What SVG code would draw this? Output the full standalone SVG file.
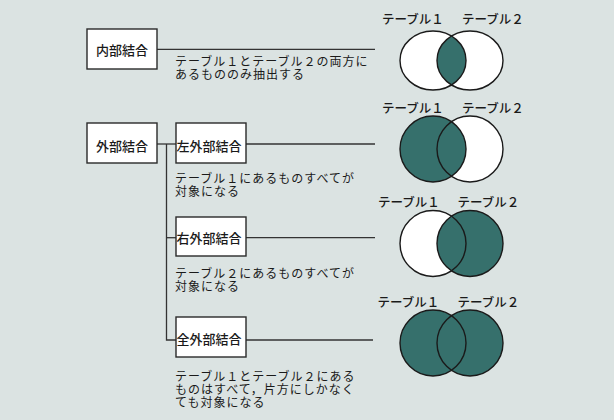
<svg xmlns="http://www.w3.org/2000/svg" width="614" height="420" viewBox="0 0 614 420">
<style>
text{font-family:"Noto Sans CJK JP","Noto Sans CJK SC",sans-serif;fill:#1a1a1a}
.box rect{fill:#fff;stroke:#2a2a2a;stroke-width:1.4}
.box text{font-size:13px;font-weight:500;text-anchor:middle}
.desc{font-size:12px;letter-spacing:1px}
.lbl{font-size:12.5px;font-weight:500}
.conn{stroke:#333;stroke-width:1.3;fill:none}
.c{stroke:#1a1a1a;stroke-width:1.4;fill:none}
.w{fill:#fff}
.t{fill:#36706c}
</style>
<defs>
<clipPath id="clipL"><ellipse cx="433" cy="60.5" rx="33" ry="29.5"/></clipPath>
</defs>
<rect width="614" height="420" fill="#dbe3e2"/>
<g id="connectors" class="conn">
<line x1="157" y1="49.3" x2="375" y2="49.3"/>
<line x1="157" y1="144" x2="176" y2="144"/>
<line x1="246" y1="144" x2="375" y2="144"/>
<polyline points="166.5,144 166.5,340 176,340"/>
<line x1="166.5" y1="237.7" x2="176" y2="237.7"/>
<line x1="246" y1="237.7" x2="375" y2="237.7"/>
<line x1="246" y1="340" x2="373" y2="340"/>
</g>
<g id="inner" class="box"><rect x="87" y="29" width="70" height="40"/><text x="122" y="54.5">内部結合</text></g>
<g id="outer" class="box"><rect x="87" y="123" width="70" height="40"/><text x="122" y="150.5">外部結合</text></g>
<g id="left" class="box"><rect x="176" y="123" width="70" height="40"/><text x="209" y="150.5">左外部結合</text></g>
<g id="right" class="box"><rect x="176" y="217" width="70" height="39"/><text x="209" y="243">右外部結合</text></g>
<g id="full" class="box"><rect x="176" y="317" width="70" height="40"/><text x="209" y="344">全外部結合</text></g>
<g id="desc1"><text class="desc" x="175" y="65.5">テーブル１とテーブル２の両方に<tspan x="175" dy="13">あるもののみ抽出する</tspan></text></g>
<g id="desc2"><text class="desc" x="175" y="182.5">テーブル１にあるものすべてが<tspan x="175" dy="13">対象になる</tspan></text></g>
<g id="desc3"><text class="desc" x="175" y="277.5">テーブル２にあるものすべてが<tspan x="175" dy="13">対象になる</tspan></text></g>
<g id="desc4"><text class="desc" x="175" y="381">テーブル１とテーブル２にある<tspan x="175" dy="13">ものはすべて，片方にしかなく</tspan><tspan x="175" dy="13">ても対象になる</tspan></text></g>
<g id="venn1">
<text class="lbl" x="382" y="24">テーブル１</text><text class="lbl" x="462" y="24">テーブル２</text>
<ellipse class="w" cx="433" cy="60.5" rx="33" ry="29.5"/>
<ellipse class="w" cx="470" cy="60.5" rx="33" ry="29.5"/>
<ellipse class="t" cx="470" cy="60.5" rx="33" ry="29.5" clip-path="url(#clipL)"/>
<ellipse class="c" cx="433" cy="60.5" rx="33" ry="29.5"/>
<ellipse class="c" cx="470" cy="60.5" rx="33" ry="29.5"/>
</g>
<g id="venn2">
<text class="lbl" x="382" y="113">テーブル１</text><text class="lbl" x="462" y="113">テーブル２</text>
<circle class="w" cx="470" cy="149" r="33"/>
<circle class="t" cx="433" cy="149" r="33"/>
<circle class="c" cx="433" cy="149" r="33"/>
<circle class="c" cx="470" cy="149" r="33"/>
</g>
<g id="venn3">
<text class="lbl" x="378" y="206.5">テーブル１</text><text class="lbl" x="457.5" y="206.5">テーブル２</text>
<circle class="w" cx="433" cy="243.5" r="33"/>
<circle class="t" cx="470" cy="243.5" r="33"/>
<circle class="c" cx="433" cy="243.5" r="33"/>
<circle class="c" cx="470" cy="243.5" r="33"/>
</g>
<g id="venn4">
<text class="lbl" x="377.5" y="306.5">テーブル１</text><text class="lbl" x="457.5" y="306.5">テーブル２</text>
<circle class="t" cx="433" cy="343" r="33"/>
<circle class="t" cx="470" cy="343" r="33"/>
<circle class="c" cx="433" cy="343" r="33"/>
<circle class="c" cx="470" cy="343" r="33"/>
</g>
</svg>
